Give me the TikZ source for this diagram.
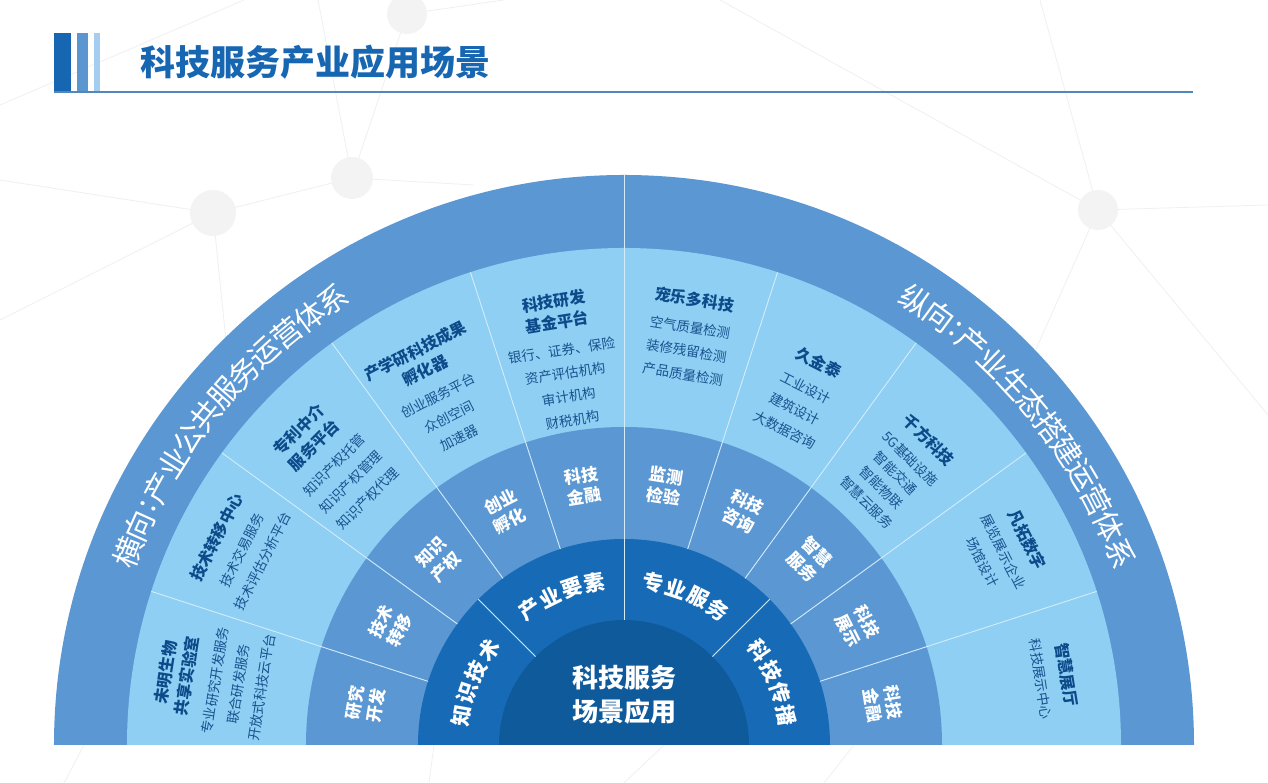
\documentclass[tikz,border=0pt]{standalone}
\usepackage{fontspec}
\setmainfont{Noto Sans CJK SC}
\definecolor{outerblue}{HTML}{5B97D2}
\definecolor{lightblue}{HTML}{8ECFF3}
\definecolor{midblue}{HTML}{5B97D2}
\definecolor{darkblue}{HTML}{176BB6}
\definecolor{coreblue}{HTML}{0F5A9A}
\definecolor{navy}{HTML}{0C4A8A}
\definecolor{itemblue}{HTML}{1A528F}
\definecolor{titleblue}{HTML}{1766B2}
\definecolor{barmid}{HTML}{5B96D0}
\definecolor{barlight}{HTML}{A5CDF0}
\definecolor{bgline}{HTML}{F0F0F0}
\definecolor{bgdot}{HTML}{F3F3F3}
\definecolor{sepcol}{HTML}{D3ECFA}
\newcommand\segtitle[1]{{\bfseries\fontsize{16}{16}\selectfont\color{navy}#1}}
\tikzset{
  sepline/.style={draw=sepcol, line width=0.9pt},
  netline/.style={draw=bgline, line width=0.8pt},
  netdot/.style={fill=bgdot},
  seglabel/.style={align=center, inner sep=0pt, text=itemblue, font=\fontsize{13.5}{23.5}\selectfont},
  midlabel/.style={align=center, inner sep=0pt, text=white, font=\bfseries\fontsize{17}{21}\selectfont},
  ringchar/.style={inner sep=0pt, text=white, font=\bfseries\fontsize{21}{21}\selectfont},
  outchar/.style={inner sep=0pt, text=white, font=\fontsize{30}{30}\selectfont},
}
\begin{document}
\begin{tikzpicture}[x=1pt,y=1pt]
\useasboundingbox (-624,-38) rectangle (644,745);
\fill[white] (-624,-38) rectangle (644,745);
% background network
\coordinate (c1) at (-217,731);
\coordinate (c2) at (-411,532);
\coordinate (c3) at (-272,567);
\coordinate (c4) at (474,535);
\draw[netline] (c1) -- (c3) -- (c2);
\draw[netline] (c2) -- (-624,565);
\draw[netline] (c2) -- (-624,425);
\draw[netline] (c2) -- (-392,345);
\draw[netline] (c3) -- (-306,745);
\draw[netline] (c3) -- (-150,560);
\draw[netline] (-624,640) -- (-380,745);
\draw[netline] (c1) -- (-120,745);
\draw[netline] (c4) -- (644,540);
\draw[netline] (c4) -- (644,330);
\draw[netline] (c4) -- (416,745);
\draw[netline] (c4) -- (96,745);
\draw[netline] (c4) -- (376,315);
\draw[netline] (-560,-38) -- (-540,0);
\draw[netline] (-195,-38) -- (-190,0);
\draw[netline] (0,-38) -- (40,0);
\draw[netline] (200,-38) -- (230,0);
\fill[netdot] (c1) circle[radius=20];
\fill[netdot] (c2) circle[radius=23];
\fill[netdot] (c3) circle[radius=21];
\fill[netdot] (c4) circle[radius=20];
% header
\fill[titleblue] (-570,652) rectangle (-553,712);
\fill[barmid] (-547,652) rectangle (-536,712);
\fill[barlight] (-530,652) rectangle (-524,712);
\draw[draw=barmid!90!black, line width=1.8pt] (-570,653) -- (569,653);
\node[anchor=west, inner sep=0pt, text=titleblue, font=\bfseries\fontsize{35}{35}\selectfont] (title) at (-484,683) {科技服务产业应用场景};
% rings
\fill[outerblue] (570,0) arc[start angle=0, end angle=180, radius=570] -- cycle;
\fill[lightblue] (497,0) arc[start angle=0, end angle=180, radius=497] -- cycle;
\fill[midblue] (318,0) arc[start angle=0, end angle=180, radius=318] -- cycle;
\fill[darkblue] (206,0) arc[start angle=0, end angle=180, radius=206] -- cycle;
\fill[coreblue] (125,0) arc[start angle=0, end angle=180, radius=125] -- cycle;
% separators
\foreach \a in {18,36,54,72,108,126,144,162} \draw[sepline] (\a:206) -- (\a:497);
\foreach \a in {45,135} \draw[sepline] (\a:125) -- (\a:206);
\draw[sepline] (90:125) -- (90:570);
% outer band texts
\foreach \ch/\o [count=\k] in {横/0,向/1,:/1.75,产/2.5,业/3.5,公/4.5,共/5.5,服/6.5,务/7.5,运/8.5,营/9.5,体/10.5,系/11.5}
  \node[outchar, rotate=158.8-3.1*\o-90] (OL\k) at ({158.8-3.1*\o}:532) {\ch};
\foreach \ch/\o [count=\k] in {纵/0,向/1,:/1.75,产/2.5,业/3.5,生/4.5,态/5.5,搭/6.5,建/7.5,运/8.5,营/9.5,体/10.5,系/11.5}
  \node[outchar, rotate=56.8-3.1*\o-90] (OR\k) at ({56.8-3.1*\o}:532) {\ch};
% light band blocks
\node[seglabel, rotate=81] (S1) at (171:416) {\segtitle{未明生物}\\[-2pt]\segtitle{共享实验室}\\[4pt]专业研究开发服务\\联合研发服务\\开放式科技云平台};
\node[seglabel, rotate=63] (S2) at (153:432) {\segtitle{技术转移中心}\\[4pt]技术交易服务\\技术评估分析平台};
\node[seglabel, rotate=45] (S3) at (136:405) {\segtitle{专利中介}\\[-2pt]\segtitle{服务平台}\\[4pt]知识产权托管\\知识产权管理\\知识产权代理};
\node[seglabel, rotate=27] (S4) at (118:398) {\segtitle{产学研科技成果}\\[-2pt]\segtitle{孵化器}\\[4pt]创业服务平台\\众创空间\\加速器};
\node[seglabel, rotate=9] (S5) at (99:390) {\segtitle{科技研发}\\[-2pt]\segtitle{基金平台}\\[4pt]银行、证券、保险\\资产评估机构\\审计机构\\财税机构};
\node[seglabel, rotate=-9] (S6) at (81:414) {\segtitle{宠乐多科技}\\[4pt]空气质量检测\\装修残留检测\\产品质量检测};
\node[seglabel, rotate=-27] (S7) at (63:392) {\segtitle{久金泰}\\[4pt]工业设计\\建筑设计\\大数据咨询};
\node[seglabel, rotate=-45] (S8) at (45:388) {\segtitle{千方科技}\\[2pt]5G基础设施\\[-3pt]智能交通\\[-3pt]智能物联\\[-3pt]智慧云服务};
\node[seglabel, rotate=-63] (S9) at (27:428) {\segtitle{凡拓数字}\\[2pt]展览展示企业\\场馆设计};
\node[seglabel, rotate=-81] (S10) at (9:436) {\segtitle{智慧展厅}\\[2pt]科技展示中心};
% middle band labels
\foreach \t/\a [count=\i] in {研究\\开发/171, 技术\\转移/153, 知识\\产权/135, 创业\\孵化/117, 科技\\金融/99, 监测\\检验/81, 科技\\咨询/63, 智慧\\服务/45, 科技\\展示/27, 科技\\金融/9}
  \node[midlabel, rotate=\a-90] (M\i) at (\a:262) {\t};
% dark ring labels
\foreach \ch [count=\k] in {知,识,技,术}
  \node[ringchar, rotate=157.5+12.3-(\k-1)*8.2-90] (KA\k) at ({157.5+12.3-(\k-1)*8.2}:165) {\ch};
\foreach \ch [count=\k] in {产,业,要,素}
  \node[ringchar, rotate=112.5+12.3-(\k-1)*8.2-90] (KB\k) at ({112.5+12.3-(\k-1)*8.2}:165) {\ch};
\foreach \ch [count=\k] in {专,业,服,务}
  \node[ringchar, rotate=67.5+12.3-(\k-1)*8.2-90] (KC\k) at ({67.5+12.3-(\k-1)*8.2}:165) {\ch};
\foreach \ch [count=\k] in {科,技,传,播}
  \node[ringchar, rotate=22.5+12.3-(\k-1)*8.2-90] (KD\k) at ({22.5+12.3-(\k-1)*8.2}:165) {\ch};
% core
\node[align=center, inner sep=0pt, text=white, font=\bfseries\fontsize{26}{34}\selectfont] (core) at (0,50) {科技服务\\场景应用};
\end{tikzpicture}
\end{document}
